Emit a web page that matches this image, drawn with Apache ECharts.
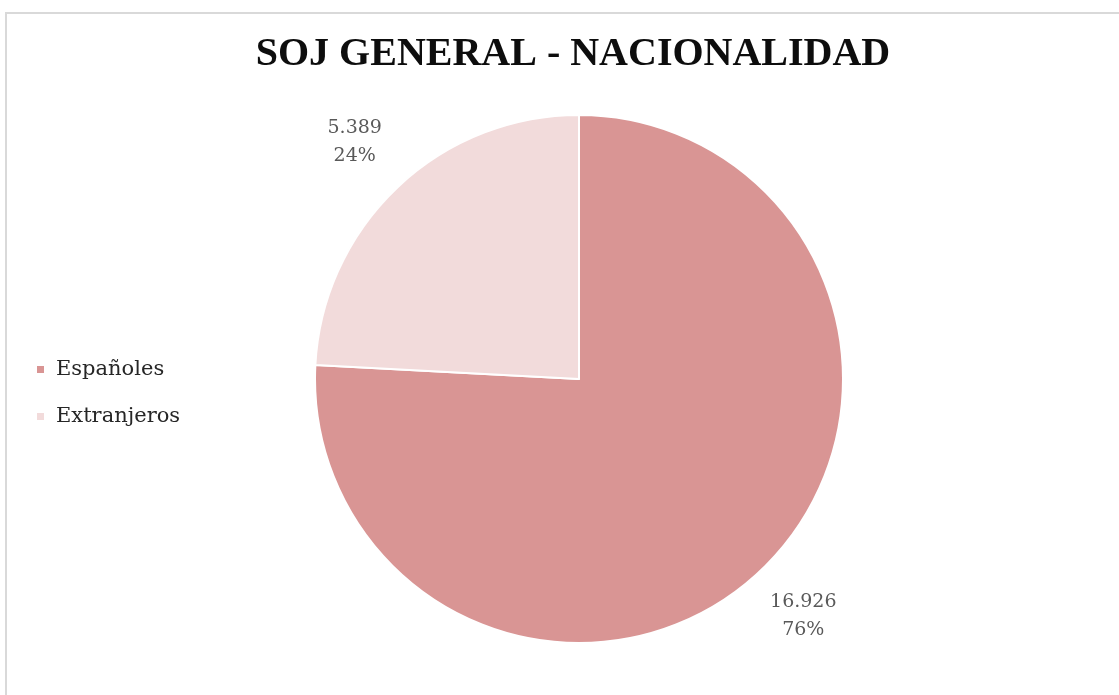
<!DOCTYPE html>
<html>
<head>
<meta charset="utf-8">
<script src="https://cdn.jsdelivr.net/npm/echarts@6/dist/echarts.min.js"></script>
<style>
  html, body { margin: 0; padding: 0; background: #ffffff; }
  #main { width: 1119px; height: 695px; }
</style>
</head>
<body>
<div id="main"></div>
<script>
// datos
var categorias = ['Españoles', 'Extranjeros']
var valores = [16926, 5389]
var etiquetas = ['16.926', '5.389']
var porcentajes = ['76%', '24%']
var colores = ['#d99594', '#f2dbdb']

var myChart = echarts.init(document.getElementById('main'))

var pieData = categorias.map(function (nombre, i) {
    return {
        name: nombre,
        value: valores[i],
        itemStyle: { color: colores[i] }
    }
})

var option = {
    backgroundColor: '#ffffff',
    title: {
        text: 'SOJ GENERAL - NACIONALIDAD',
        left: 568,
        textAlign: 'center',
        top: 30,
        textStyle: {
            fontFamily: 'Liberation Serif',
            fontWeight: 'bold',
            fontSize: 40,
            color: '#0d0d0d'
        }
    },
    legend: {
        orient: 'vertical',
        left: 30,
        top: 354,
        itemGap: 26,
        icon: 'rect',
        itemWidth: 9,
        itemHeight: 9,
        data: categorias,
        textStyle: {
            fontFamily: 'DejaVu Serif',
            fontSize: 21,
            color: '#262626',
            padding: [0, 0, 0, 6]
        }
    },
    graphic: [{
        type: 'rect',
        shape: { x: 6, y: 13, width: 1130, height: 700 },
        style: { fill: 'none', stroke: '#d9d9d9', lineWidth: 2 },
        silent: true
    }],
    series: [{
        name: 'Nacionalidad',
        type: 'pie',
        center: [579, 379],
        radius: 264,
        startAngle: 90,
        clockwise: true,
        animation: false,
        itemStyle: {
            borderColor: '#ffffff',
            borderWidth: 2
        },
        label: {
            show: true,
            position: 'outside',
            distanceToLabelLine: 0,
            fontFamily: 'DejaVu Serif',
            fontSize: 19,
            lineHeight: 28,
            color: '#595959',
            formatter: function (params) {
                return etiquetas[params.dataIndex] + '\n' + porcentajes[params.dataIndex]
            }
        },
        labelLine: {
            show: false,
            length: 62,
            length2: 0
        },
        labelLayout: {
            align: 'center'
        },
        emphasis: { disabled: true },
        data: pieData
    }]
}

myChart.setOption(option)
</script>
</body>
</html>
